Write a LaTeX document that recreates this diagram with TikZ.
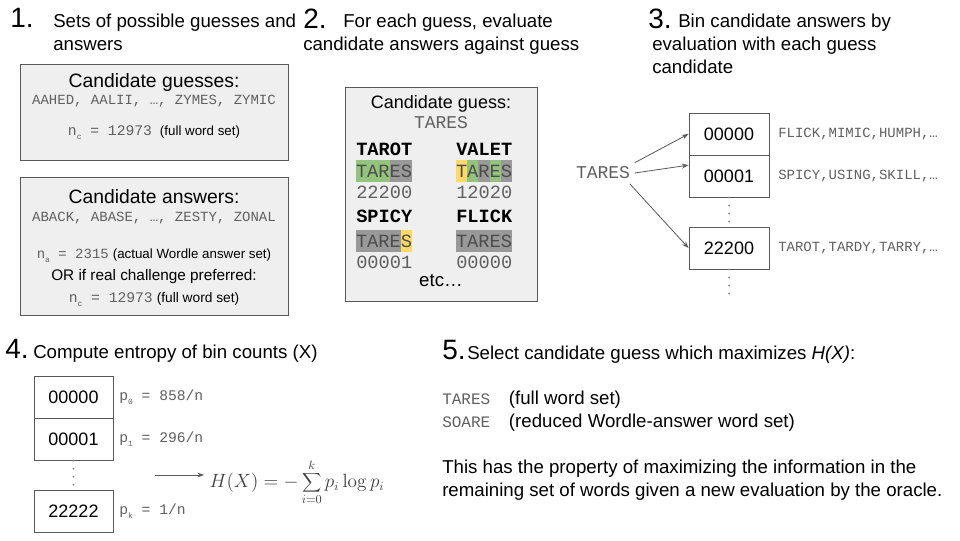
\documentclass[tikz,border=0pt]{standalone}
\usepackage[no-math]{fontspec}
\setmainfont{Liberation Sans}
\setmonofont{Liberation Mono}
\usetikzlibrary{arrows.meta}
\definecolor{boxfill}{HTML}{EFEFEF}
\definecolor{boxline}{HTML}{595959}
\definecolor{mono}{HTML}{606060}
\definecolor{wgreen}{HTML}{93C47D}
\definecolor{wyellow}{HTML}{FFD966}
\definecolor{wgray}{HTML}{999999}
\definecolor{dotc}{HTML}{808080}
\newcommand\fs[1]{\fontsize{#1}{#1}\selectfont}
\newcommand\nsub[1]{n\raisebox{-3pt}{\fs{6}#1}}
\newcommand\psub[1]{p\raisebox{-3pt}{\fs{6}#1}}
\begin{document}
\begin{tikzpicture}[x=0.75pt,y=-0.75pt,
  hnum/.style={anchor=base west,inner sep=0pt,font=\fs{21}},
  htxt/.style={anchor=base west,inner sep=0pt,font=\fs{14}},
  ctr/.style={anchor=base,inner sep=0pt},
  lft/.style={anchor=base west,inner sep=0pt},
  mg/.style={text=mono,font=\ttfamily\fs{#1}},
  panel/.style={draw=boxline,fill=boxfill,line width=0.75pt},
  binbox/.style={draw=boxline,fill=white,line width=0.75pt,minimum width=60pt,minimum height=31.5pt,inner sep=0pt,font=\fs{13.5}},
  cell/.style={minimum width=8.4pt,minimum height=16.5pt,inner sep=0pt,font=\ttfamily\fs{14},text=black!70},
  arr/.style={draw=boxline,line width=0.6pt,-{Stealth[length=5pt,width=3.6pt]}},
  dots/.style={draw=dotc,line width=1.5pt,line cap=round,dash pattern=on 0pt off 6pt},
]
\fill[white] (0,0) rectangle (960,540);
\useasboundingbox (0,0) rectangle (960,540);

% ---------- Section 1
\node[hnum] (n1) at (10,27) {1.};
\node[htxt] (h1a) at (53,27) {Sets of possible guesses and};
\node[htxt] (h1b) at (53,50) {answers};
\draw[panel] (20,64) rectangle (288,160);
\node[ctr,font=\fs{14.5}] (cg) at (154,87) {Candidate guesses:};
\node[ctr,mg=10.5] (cgl) at (154,104) {AAHED, AALII, …, ZYMES, ZYMIC};
\node[ctr] (cgn) at (154,135) {\textcolor{mono}{\ttfamily\fs{11}\nsub{c} = 12973}\hspace{6pt}{\fs{10}(full word set)}};

\draw[panel] (20,177) rectangle (288,315);
\node[ctr,font=\fs{14.5}] (ca) at (154,203) {Candidate answers:};
\node[ctr,mg=10.5] (cal) at (154,221) {ABACK, ABASE, …, ZESTY, ZONAL};
\node[ctr] (can) at (154,258) {\textcolor{mono}{\ttfamily\fs{10.5}\nsub{a} = 2315}\hspace{3pt}{\fs{10}(actual Wordle answer set)}};
\node[ctr,font=\fs{11.5}] (cor) at (154,280) {OR if real challenge preferred:};
\node[ctr] (cac) at (154,302) {\textcolor{mono}{\ttfamily\fs{11}\nsub{c} = 12973}\hspace{3pt}{\fs{10.3}(full word set)}};

% ---------- Section 2
\node[hnum] (n2) at (303,28) {2.};
\node[htxt] (h2a) at (343,27) {For each guess, evaluate};
\node[htxt] (h2b) at (303,50) {candidate answers against guess};
\draw[panel] (345,87) rectangle (537,301);
\node[ctr,font=\fs{13.5}] (cgs) at (441,108) {Candidate guess:};
\node[ctr,mg=13.5] (cgw) at (441,128) {TARES};

\node[lft,font=\ttfamily\bfseries\fs{14}] (w1) at (356,155) {TAROT};
\node[lft,font=\ttfamily\bfseries\fs{14}] (w2) at (456,155) {VALET};
\foreach \L/\C [count=\i] in {T/wgreen,A/wgreen,R/wgreen,E/wgray,S/wgray}
  \node[cell,fill=\C] (ra\i) at ({350.4+\i*11.2},171) {\L};
\foreach \L/\C [count=\i] in {T/wyellow,A/wgreen,R/wgray,E/wgreen,S/wgray}
  \node[cell,fill=\C] (rb\i) at ({450.4+\i*11.2},171) {\L};
\node[lft,mg=14] (e1) at (356,198) {22200};
\node[lft,mg=14] (e2) at (456,198) {12020};

\node[lft,font=\ttfamily\bfseries\fs{14}] (w3) at (356,222) {SPICY};
\node[lft,font=\ttfamily\bfseries\fs{14}] (w4) at (456,222) {FLICK};
\foreach \L/\C [count=\i] in {T/wgray,A/wgray,R/wgray,E/wgray,S/wyellow}
  \node[cell,fill=\C] (rc\i) at ({350.4+\i*11.2},241) {\L};
\foreach \L/\C [count=\i] in {T/wgray,A/wgray,R/wgray,E/wgray,S/wgray}
  \node[cell,fill=\C] (rd\i) at ({450.4+\i*11.2},241) {\L};
\node[lft,mg=14] (e3) at (356,268) {00001};
\node[lft,mg=14] (e4) at (456,268) {00000};
\node[ctr,font=\fs{14}] (etc) at (441,286) {etc…};

% ---------- Section 3
\node[hnum] (n3) at (648,28) {3.};
\node[htxt] (h3a) at (678,27) {Bin candidate answers by};
\node[htxt] (h3b) at (652,50) {evaluation with each guess};
\node[htxt] (h3c) at (652,73) {candidate};
\node[mg=13.5] (tares) at (603,173) {TARES};
\node[binbox] (b0) at (729,134) {00000};
\node[binbox] (b1) at (729,176) {00001};
\node[binbox] (b2) at (729,248) {22200};
\node[anchor=west,inner sep=0pt,mg=10.5] (l0) at (778,134) {FLICK,MIMIC,HUMPH,…};
\node[anchor=west,inner sep=0pt,mg=10.5] (l1) at (778,176) {SPICY,USING,SKILL,…};
\node[anchor=west,inner sep=0pt,mg=10.5] (l2) at (778,248) {TAROT,TARDY,TARRY,…};
\draw[arr] (tares.18) -- (b0.west);
\draw[arr] (tares.east) -- (b1.165);
\draw[arr] (tares.-22) -- (b2.west);
\coordinate (d3) at (729,300);
\draw[dots] (b1.south) -- (b2.north);
\draw[dots] (b2.south) -- (d3);

% ---------- Section 4
\node[hnum] (n4) at (5,358) {4.};
\node[htxt] (h4) at (33,358) {Compute entropy of bin counts (X)};
\node[binbox,minimum width=59.25pt] (c0) at (73.5,397) {00000};
\node[binbox,minimum width=59.25pt] (c1) at (73.5,439) {00001};
\node[binbox,minimum width=59.25pt] (ck) at (73.5,511.5) {22222};
\node[anchor=west,inner sep=0pt,mg=11] (q0) at (119,397) {\psub{0} = 858/n};
\node[anchor=west,inner sep=0pt,mg=11] (q1) at (119,439) {\psub{1} = 296/n};
\node[anchor=west,inner sep=0pt,mg=11] (qk) at (119,511) {\psub{k} = 1/n};
\draw[dots] (c1.south) -- (ck.north);
\node[anchor=west,inner sep=4pt,text=black!75,font=\fs{13.5}] (hx) at (204,482) {$\displaystyle H(X) = -\sum_{i=0}^{k} p_i \log p_i$};
\coordinate (fa) at (155,475);
\draw[arr] (fa) -- (fa -| hx.west);

% ---------- Section 5
\node[hnum] (n5) at (442,359) {5.};
\node[htxt] (h5) at (467,359) {Select candidate guess which maximizes \textit{H(X)}:};
\node[htxt] (s1) at (442,404) {\textcolor{mono}{\ttfamily\fs{12}TARES}\hspace{14pt}(full word set)};
\node[htxt] (s2) at (442,427) {\textcolor{mono}{\ttfamily\fs{12}SOARE}\hspace{14pt}(reduced Wordle-answer word set)};
\node[htxt] (p1) at (442,473) {This has the property of maximizing the information in the};
\node[htxt] (p2) at (442,496) {remaining set of words given a new evaluation by the oracle.};
\end{tikzpicture}
\end{document}
